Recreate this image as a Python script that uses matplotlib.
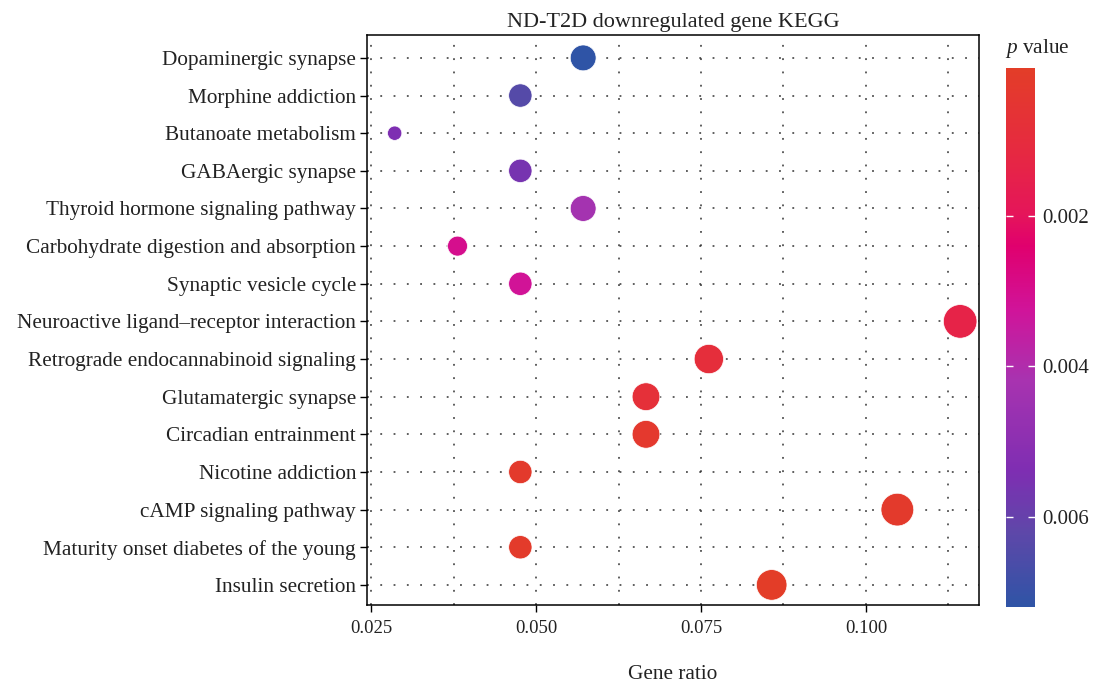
import numpy as np
import matplotlib
matplotlib.use("Agg")
import matplotlib.pyplot as plt
from matplotlib.colors import LinearSegmentedColormap, Normalize
from matplotlib.ticker import MultipleLocator, FormatStrFormatter

plt.rcParams['font.family'] = ['Liberation Serif', 'DejaVu Serif']
plt.rcParams['mathtext.fontset'] = 'custom'
plt.rcParams['mathtext.it'] = 'Liberation Serif:italic'
plt.rcParams['mathtext.rm'] = 'Liberation Serif'

# KEGG pathways, listed top to bottom as drawn
pathways = [
    "Dopaminergic synapse",
    "Morphine addiction",
    "Butanoate metabolism",
    "GABAergic synapse",
    "Thyroid hormone signaling pathway",
    "Carbohydrate digestion and absorption",
    "Synaptic vesicle cycle",
    "Neuroactive ligand\u2013receptor interaction",
    "Retrograde endocannabinoid signaling",
    "Glutamatergic synapse",
    "Circadian entrainment",
    "Nicotine addiction",
    "cAMP signaling pathway",
    "Maturity onset diabetes of the young",
    "Insulin secretion",
]
gene_count = [6, 5, 3, 5, 6, 4, 5, 12, 8, 7, 7, 5, 11, 5, 9]
gene_ratio = [c / 105 for c in gene_count]
p_value = [0.0072, 0.0064, 0.0054, 0.0056, 0.0043, 0.0030, 0.0032,
           0.0014, 0.0009, 0.0008, 0.0003, 0.0002, 0.0002, 0.00015, 0.00003]

# red -> pink -> purple -> blue gradient for p value
cmap = LinearSegmentedColormap.from_list("pval", [
    (0.00, "#E33D28"),
    (0.15, "#E62A40"),
    (0.27, "#E5155A"),
    (0.33, "#E0006E"),
    (0.45, "#D0149A"),
    (0.58, "#A833B0"),
    (0.75, "#7E2EB2"),
    (0.86, "#5F47A9"),
    (1.00, "#2F54A6"),
])
norm = Normalize(vmin=min(p_value), vmax=max(p_value))

dpi = 100
fig = plt.figure(figsize=(10.96, 6.85), dpi=dpi)
ax = fig.add_axes([0.335, 0.117, 0.558, 0.832])

n = len(pathways)
ypos = np.arange(n)[::-1]
counts = np.array(gene_count, dtype=float)
# point area grows with log of the gene count
area_px = 161 + 523 * np.log(counts / counts.min())
sizes = 4 * area_px / np.pi * (72 / dpi) ** 2

ax.set_axisbelow(True)
ax.scatter(gene_ratio, ypos, s=sizes, c=p_value, cmap=cmap, norm=norm,
           edgecolors="white", linewidths=0.5, zorder=3)

ax.set_xlim(0.0244, 0.1171)
ax.set_ylim(-0.53, n - 1 + 0.61)
ax.set_yticks(ypos)
ax.set_yticklabels(pathways, fontsize=15.3, color="#222222")
ax.xaxis.set_major_locator(MultipleLocator(0.025))
ax.xaxis.set_minor_locator(MultipleLocator(0.0125))
ax.xaxis.set_major_formatter(FormatStrFormatter("%.3f"))
ax.tick_params(axis="x", which="major", labelsize=13.5, length=5, width=1,
               labelcolor="#222222", pad=6)
ax.tick_params(axis="x", which="minor", length=0)
ax.tick_params(axis="y", length=5, width=1, pad=3)

dots = dict(color="#333333", linestyle=(0, (1.2, 7.5)), linewidth=1.1)
ax.grid(True, axis="x", which="both", **dots)
ax.grid(True, axis="y", which="major", **dots)
for s in ax.spines.values():
    s.set_linewidth(1.1)

ax.set_title("ND-T2D downregulated gene KEGG", fontsize=16, pad=6,
             color="#222222")
ax.set_xlabel("Gene ratio", fontsize=15.3, labelpad=20, color="#222222")

# colour bar for p value
cax = fig.add_axes([0.918, 0.114, 0.0265, 0.787])
sm = plt.cm.ScalarMappable(norm=norm, cmap=cmap)
cb = fig.colorbar(sm, cax=cax, ticks=[0.002, 0.004, 0.006])
cb.ax.invert_yaxis()
cb.outline.set_visible(False)
cb.ax.yaxis.set_major_formatter(FormatStrFormatter("%.3f"))
cb.ax.tick_params(left=True, right=True, direction="in", color="white",
                  length=5, width=1, labelsize=15, labelcolor="#222222",
                  pad=5)
fig.text(0.917, 0.912, r"$p$ value", fontsize=15.3, color="#222222",
         ha="left", va="bottom")

fig.savefig("out.png", dpi=dpi)
